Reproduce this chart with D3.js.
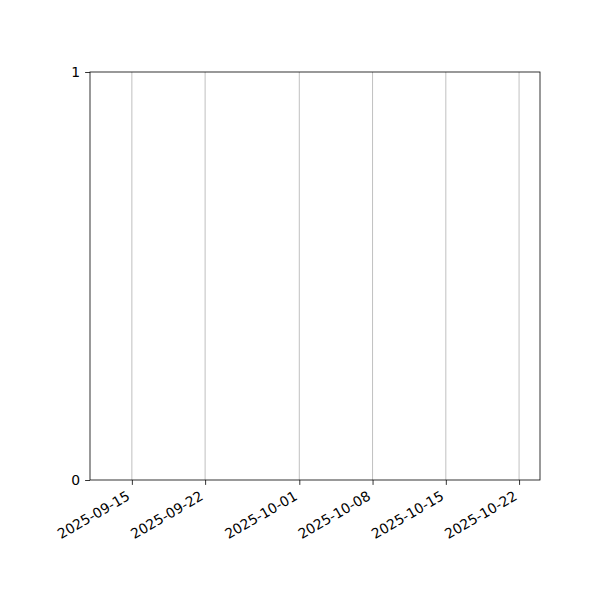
<!DOCTYPE html>
<html>
<head>
<meta charset="utf-8">
<script src="https://cdn.jsdelivr.net/npm/d3@7"></script>
<style>
  body { margin: 0; background: #fff; }
  text { font-family: "DejaVu Sans", sans-serif; font-size: 13.9px; fill: #000; }
</style>
</head>
<body>
<div id="chart"></div>
<script>
// data: empty plot, only the axis ranges and ticks
var xDomain = ["2025-09-11", "2025-10-24"];
var xTickLabels = ["2025-09-15", "2025-09-22", "2025-10-01", "2025-10-08", "2025-10-15", "2025-10-22"];
var yDomain = [0, 1];
var yTickLabels = [0, 1];

var margin = {top: 72, right: 60, bottom: 120, left: 90},
    width = 600 - margin.left - margin.right,
    height = 600 - margin.top - margin.bottom;

var parse = d3.utcParse("%Y-%m-%d");

var svg = d3.select("#chart")
  .append("svg")
    .attr("width", 600)
    .attr("height", 600)
  .append("g")
    .attr("transform", "translate(" + margin.left + "," + margin.top + ")");

var x = d3.scaleUtc()
  .domain(xDomain.map(parse))
  .range([0, width]);

var y = d3.scaleLinear()
  .domain(yDomain)
  .range([height, 0]);

// vertical grid lines
svg.append("g")
  .selectAll("line")
  .data(xTickLabels)
  .enter()
  .append("line")
    .attr("x1", function (d) { return x(parse(d)); })
    .attr("x2", function (d) { return x(parse(d)); })
    .attr("y1", 0)
    .attr("y2", height)
    .style("stroke", "#b0b0b0")
    .style("stroke-width", 0.8);

// X axis
var xAxis = svg.append("g")
  .attr("transform", "translate(0," + height + ")")
  .call(d3.axisBottom(x)
    .tickValues(xTickLabels.map(parse))
    .tickFormat(d3.utcFormat("%Y-%m-%d"))
    .tickSize(4.9)
    .tickPadding(4.9)
    .tickSizeOuter(0));
xAxis.select(".domain").remove();
xAxis.selectAll("line").style("stroke", "#000").style("stroke-width", 0.8);
// matplotlib-style rotated labels: right edge of the rotated box at the tick
xAxis.selectAll("text")
  .style("text-anchor", "end")
  .attr("dy", "0.76em")
  .attr("transform", "translate(-6.7,0) rotate(-30,0,9.8)");
xAxis.attr("font-family", null).attr("font-size", null);

// Y axis
var yAxis = svg.append("g")
  .call(d3.axisLeft(y)
    .tickValues(yTickLabels)
    .tickFormat(d3.format("d"))
    .tickSize(4.9)
    .tickPadding(4.9)
    .tickSizeOuter(0));
yAxis.select(".domain").remove();
yAxis.selectAll("line").style("stroke", "#000").style("stroke-width", 0.8);
yAxis.attr("font-family", null).attr("font-size", null);

// frame
svg.append("rect")
  .attr("x", 0)
  .attr("y", 0)
  .attr("width", width)
  .attr("height", height)
  .style("fill", "none")
  .style("stroke", "#000")
  .style("stroke-width", 0.8);
</script>
</body>
</html>
